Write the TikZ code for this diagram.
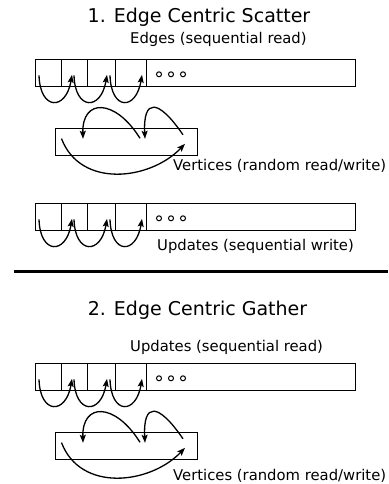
\documentclass[tikz,border=0pt]{standalone}
\usepackage{fontspec}
\setmainfont{DejaVu Sans}
\usetikzlibrary{calc,arrows.meta}

\tikzset{
  buffer/.style={draw, line width=1.1pt, minimum width=320pt, minimum height=27pt,
    inner sep=0pt, anchor=north west},
  vbuffer/.style={buffer, minimum width=142pt},
  divider/.style={line width=1.1pt},
  hop/.style={-{Stealth[length=8pt,width=6pt,inset=1.5pt]}, line width=1.3pt},
  dot/.style={draw, circle, minimum size=5pt, inner sep=0pt, line width=1pt},
  caption/.style={anchor=base west, inner sep=0pt, font=\fontsize{14.8}{17}\selectfont},
  heading/.style={anchor=base, inner sep=0pt, font=\fontsize{19}{22}\selectfont},
}

% sequential buffer: cells, dots and hops from cell to cell
\newcommand{\seqbuffer}[2]{%
  \node[buffer] (#1) at (35,#2) {};
  \foreach \dx in {26.5,52.3,80.5,111.5}
    \draw[divider] ($(#1.north west)+(\dx,0)$) -- ($(#1.south west)+(\dx,0)$);
  \foreach \dx [count=\i] in {124,136,148}
    \node[dot] (#1-dot\i) at ($(#1.north west)+(\dx,15)$) {};
  \foreach \sx/\ex [count=\i] in {4/37,39/72,75/107} {
    \coordinate (#1-from\i) at ($(#1.north west)+(\sx,16)$);
    \coordinate (#1-to\i) at ($(#1.north west)+(\ex,15.5)$);
    \draw[hop] (#1-from\i) .. controls +(1,35.5) and +(-6,36) .. (#1-to\i);
  }
}

% random access buffer: two hops over the top, one underneath
\newcommand{\randbuffer}[2]{%
  \node[vbuffer] (#1) at (55,#2) {};
  \coordinate (#1-a) at ($(#1.north west)+(85,10)$);
  \coordinate (#1-b) at ($(#1.north west)+(28,10.5)$);
  \coordinate (#1-c) at ($(#1.north west)+(128,6.5)$);
  \coordinate (#1-d) at ($(#1.north west)+(90,10.5)$);
  \coordinate (#1-e) at ($(#1.north west)+(6.5,10.3)$);
  \coordinate (#1-f) at ($(#1.north west)+(130,15.5)$);
  \draw[hop] (#1-a) .. controls +(-25,-40) and +(-1,-40.5) .. (#1-b);
  \draw[hop] (#1-c) .. controls +(-25,-36.5) and +(-2,-40.5) .. (#1-d);
  \draw[hop] (#1-e) .. controls +(19,50) and +(-35,36.5) .. (#1-f);
}

\begin{document}
\begin{tikzpicture}[x=1pt, y=-1pt]
  \useasboundingbox (0,0) rectangle (388,484);

  % 1. scatter
  \node[heading] (scatter) at (199,22.7) {1. Edge Centric Scatter};
  \node[caption] (edgeslabel) at (130,43.3) {Edges (sequential read)};
  \seqbuffer{edges}{59.3}
  \randbuffer{vertices}{128.3}
  \node[caption] (verticeslabel) at (173,170.7) {Vertices (random read/write)};
  \seqbuffer{updates}{203.3}
  \node[caption] (updateslabel) at (157,250.7) {Updates (sequential write)};

  % trennlinie
  \draw[line width=2.5pt] (14,271.3) -- (388,271.3);

  % 2. gather
  \node[heading] (gather) at (197.5,315) {2. Edge Centric Gather};
  \node[caption] (updatesreadlabel) at (130,351.7) {Updates (sequential read)};
  \seqbuffer{updatesin}{363.3}
  \randbuffer{verticesout}{432.3}
  \node[caption] (verticesoutlabel) at (173,480) {Vertices (random read/write)};
\end{tikzpicture}
\end{document}
